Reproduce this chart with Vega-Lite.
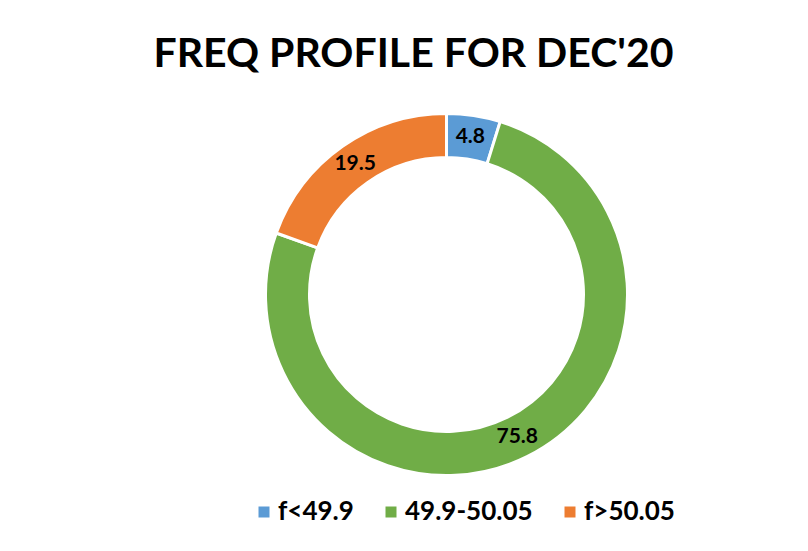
{
  "$schema": "https://vega.github.io/schema/vega-lite/v6.json",
  "width": 363,
  "height": 363,
  "autosize": "none",
  "padding": {"left": 265, "top": 113, "right": 180, "bottom": 75},
  "background": "white",
  "title": {
    "text": "FREQ PROFILE FOR DEC'20",
    "font": "Lato",
    "fontSize": 41,
    "fontWeight": "bold",
    "color": "black",
    "anchor": "middle",
    "dx": -33,
    "offset": 32
  },
  "data": {
    "values": [
      {"range": "f<49.9", "value": 4.8, "order": 1},
      {"range": "49.9-50.05", "value": 75.8, "order": 2},
      {"range": "f>50.05", "value": 19.5, "order": 3}
    ]
  },
  "encoding": {
    "theta": {"field": "value", "type": "quantitative", "stack": true},
    "order": {"field": "order", "type": "quantitative"}
  },
  "layer": [
    {
      "mark": {"type": "arc", "innerRadius": 137, "outerRadius": 181, "stroke": "white", "strokeWidth": 3},
      "encoding": {
        "color": {
          "field": "range",
          "type": "nominal",
          "scale": {"domain": ["f<49.9", "49.9-50.05", "f>50.05"], "range": ["#5B9BD5", "#70AD47", "#ED7D31"]},
          "legend": {
            "orient": "none",
            "legendX": -14,
            "legendY": 386,
            "direction": "horizontal",
            "title": null,
            "symbolType": "square",
            "symbolSize": 121,
            "symbolStrokeWidth": 0,
            "labelFont": "Lato",
            "labelFontSize": 26,
            "labelFontWeight": "bold",
            "labelColor": "black",
            "labelOffset": 1,
            "columnPadding": 24,
            "padding": 0
          }
        }
      }
    },
    {
      "mark": {"type": "text", "radius": 159, "font": "Lato", "fontSize": 21, "fontWeight": "bold", "color": "black"},
      "encoding": {
        "text": {"field": "value", "type": "quantitative", "format": ".1f"}
      }
    }
  ],
  "config": {"view": {"stroke": null}}
}
